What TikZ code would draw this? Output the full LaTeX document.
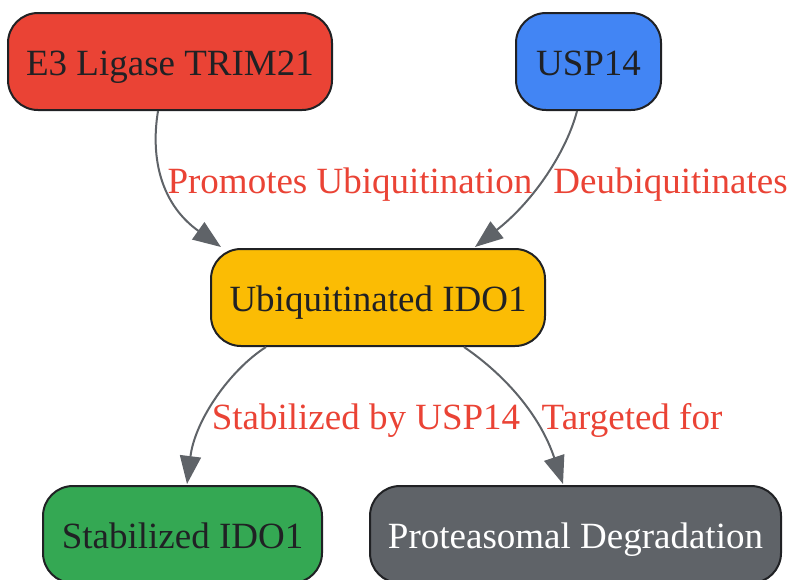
\documentclass[tikz,border=0pt]{standalone}
\usepackage{fontspec}
\setmainfont{Liberation Serif}
\usetikzlibrary{arrows.meta,calc}
\definecolor{gred}{HTML}{EA4335}
\definecolor{gblue}{HTML}{4285F4}
\definecolor{gyellow}{HTML}{FBBC04}
\definecolor{ggreen}{HTML}{34A853}
\definecolor{ggray}{HTML}{5F6368}
\definecolor{gdark}{HTML}{202124}
\tikzset{
  box/.style={draw=gdark, line width=2pt, rounded corners=30pt, minimum height=97pt,
    inner sep=0pt, text height=29pt, text depth=2pt, text=gdark,
    font=\fontsize{37}{44}\selectfont},
  lbl/.style={anchor=base, inner sep=0pt, text=gred, font=\fontsize{37}{44}\selectfont},
  conn/.style={draw=ggray, line width=2pt, -{Triangle[length=28pt,width=21pt]}}
}
\begin{document}
\begin{tikzpicture}[x=1pt,y=-1pt]
\useasboundingbox (0,0) rectangle (791,579);
\node[box, fill=gred, minimum width=324pt] (t) at (170,61.5) {E3 Ligase TRIM21};
\node[box, fill=gblue, minimum width=145pt] (u) at (588.5,61.5) {USP14};
\node[box, fill=gyellow, minimum width=334pt] (i) at (378,297.5) {Ubiquitinated IDO1};
\node[box, fill=ggreen, minimum width=279pt] (s) at (182.5,534.5) {Stabilized IDO1};
\node[box, fill=ggray, minimum width=411pt, text=white] (p) at (575.5,534.5) {Proteasomal Degradation};

\node[lbl] (l1) at (350,193) {Promotes Ubiquitination};
\node[lbl] (l2) at (670.5,193) {Deubiquitinates};
\node[lbl] (l3) at (366,429) {Stabilized by USP14};
\node[lbl] (l4) at (632,429) {Targeted for};

\draw[conn] ($(t.south)+(-12,0)$) .. controls (150,160) and (162,205) .. ($(i.north west)+(11,-1)$);
\draw[conn] ($(u.south)+(-11.5,0)$) .. controls (567,150) and (535,200) .. ($(i.north)+(97,-1)$);
\draw[conn] ($(i.south west)+(56,0)$) .. controls (230,370) and (195,420) .. ($(s.north)+(4.5,-1)$);
\draw[conn] ($(i.south east)+(-82,0)$) .. controls (505,375) and (540,415) .. ($(p.north)+(-12.5,-1)$);
\end{tikzpicture}
\end{document}
